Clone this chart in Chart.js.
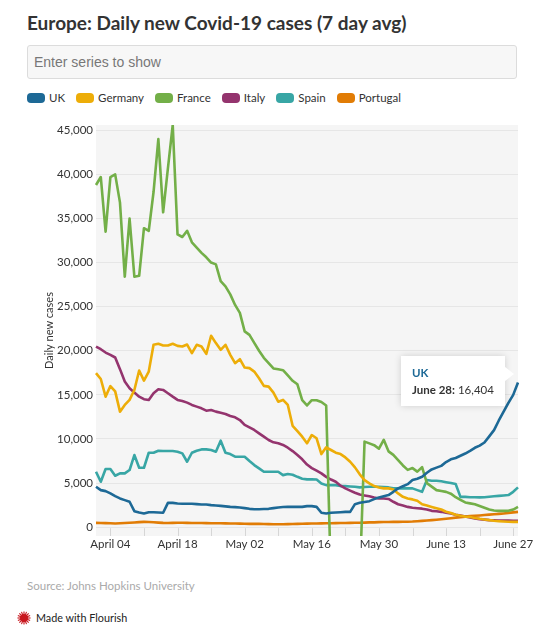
<!DOCTYPE html>
<html><head><meta charset="utf-8">
<script src="https://cdn.jsdelivr.net/npm/chart.js@4.4.0/dist/chart.umd.min.js"></script>
<style>
html,body{margin:0;padding:0;background:#fff;}
body{width:545px;height:641px;position:relative;overflow:hidden;font-family:Lato,"Noto Sans",sans-serif;color:#333;}
#title{position:absolute;left:27px;top:10px;font-weight:700;font-size:19px;line-height:26px;color:#333;white-space:nowrap;}
#search{position:absolute;left:27px;top:45px;width:490px;height:34px;box-sizing:border-box;border:1px solid #dcdcdc;border-radius:3px;background:#f7f7f7;font-family:"Liberation Sans",Arial,sans-serif;font-size:14px;color:#777;padding:0 6px;line-height:32px;}
#legend{position:absolute;left:27px;top:90px;height:16px;display:flex;font-size:11.5px;line-height:16px;color:#333;}
.item{display:flex;align-items:center;margin-right:11px;white-space:nowrap;}
.sw{width:18px;height:10px;border-radius:4px;margin-right:4px;}
#wrap{position:absolute;left:0;top:110px;width:545px;height:460px;}
#tip{position:absolute;background:#fff;box-shadow:0 0 7px rgba(0,0,0,0.16);padding:8px 11px 8px 11px;font-size:11.5px;line-height:17px;color:#333;white-space:nowrap;}
#tip .s{font-weight:700;}
#tip::after{content:"";position:absolute;right:-9px;top:11px;border-top:7px solid transparent;border-bottom:7px solid transparent;border-left:9px solid #fff;}
#source{position:absolute;left:27px;top:578px;font-size:11.5px;line-height:16px;color:#aaa;}
#made{position:absolute;left:17px;top:610px;font-size:10.8px;line-height:16px;color:#222;display:flex;align-items:center;}
#made svg{margin-right:5px;}
</style>
</head><body>
<div id="title">Europe: Daily new Covid-19 cases (7 day avg)</div>
<div id="search">Enter series to show</div>
<div id="legend"></div>
<div id="wrap"><canvas id="c"></canvas></div>
<div id="tip"></div>
<div id="source">Source: Johns Hopkins University</div>
<div id="made"><svg width="14" height="14" viewBox="0 0 16 16"><g stroke="#c8171e" stroke-width="1.3"><line x1="8" y1="0.5" x2="8" y2="15.5"/><line x1="0.5" y1="8" x2="15.5" y2="8"/><line x1="2.7" y1="2.7" x2="13.3" y2="13.3"/><line x1="13.3" y1="2.7" x2="2.7" y2="13.3"/><line x1="5.1" y1="1" x2="10.9" y2="15"/><line x1="10.9" y1="1" x2="5.1" y2="15"/><line x1="1" y1="5.1" x2="15" y2="10.9"/><line x1="1" y1="10.9" x2="15" y2="5.1"/></g><circle cx="8" cy="8" r="4.6" fill="#c8171e"/></svg>Made with Flourish</div>
<script>
// ---- data ----
const dates = [
"April 01","April 02","April 03","April 04","April 05","April 06","April 07","April 08","April 09","April 10",
"April 11","April 12","April 13","April 14","April 15","April 16","April 17","April 18","April 19","April 20",
"April 21","April 22","April 23","April 24","April 25","April 26","April 27","April 28","April 29","April 30",
"May 01","May 02","May 03","May 04","May 05","May 06","May 07","May 08","May 09","May 10",
"May 11","May 12","May 13","May 14","May 15","May 16","May 17","May 18","May 19","May 20",
"May 21","May 22","May 23","May 24","May 25","May 26","May 27","May 28","May 29","May 30","May 31",
"June 01","June 02","June 03","June 04","June 05","June 06","June 07","June 08","June 09","June 10",
"June 11","June 12","June 13","June 14","June 15","June 16","June 17","June 18","June 19","June 20",
"June 21","June 22","June 23","June 24","June 25","June 26","June 27","June 28"];
const tickLabels = ["April 04","April 18","May 02","May 16","May 30","June 13","June 27"];
const tickMarks = ["April 04","April 11","April 18","April 25","May 02","May 09","May 16","May 23","May 30","June 06","June 13","June 20","June 27"];
const yTicks = [0,5000,10000,15000,20000,25000,30000,35000,40000,45000];
const seriesNames = ["UK","Germany","France","Italy","Spain","Portugal"];
const seriesColors = ["#1D6996","#EDAD08","#73AF48","#94346E","#38A6A5","#E17C05"];

const uk = [4580,4200,4090,3830,3520,3260,3070,2880,1820,1670,
1550,1700,1700,1670,1630,2760,2760,2690,2650,2650,
2650,2610,2580,2580,2500,2460,2420,2360,2300,2270,
2240,2160,2080,2040,2040,2060,2080,2160,2240,2280,
2300,2300,2300,2300,2390,2390,2300,1630,1550,1630,
1670,1700,1740,1740,2610,2760,2850,2950,3180,3370,3500,
3640,4010,4400,4640,4880,5340,5500,5710,6170,6550,
6750,6950,7380,7690,7850,8100,8350,8650,9000,9250,
9600,10300,11000,12100,13100,14100,15000,16404];
const germany = [17460,16800,14800,16000,15400,13100,13860,14430,15560,17760,
16620,17640,20680,20790,20600,20600,20790,20560,20480,20710,
19730,20680,20480,19650,21700,20870,20110,20680,19540,18600,
19050,18100,18030,17640,16890,16020,15940,15260,14230,14430,
13860,11500,10900,10260,9510,10450,10080,8290,9050,8750,
8440,8290,7910,7420,6780,5990,5340,4960,4660,4510,4400,
4400,4280,3830,3440,3260,3150,2990,2600,2450,2300,
2150,2000,1750,1600,1400,1300,1200,1150,1050,950,
880,800,730,680,640,610,600,600];
const france = [38800,39700,33500,39700,40000,36800,28400,35000,28400,28500,
33900,33600,38000,44000,35700,40700,45600,33200,32900,33600,
32300,31700,31100,30600,30000,29800,27900,27300,26400,25200,
24300,22200,21800,20900,20000,19200,18600,18000,17900,17800,
17200,16600,16200,14400,13800,14400,14400,14200,13800,-6000,
-6000,-6000,-6000,-6000,-6000,-6000,9700,9500,9300,8900,9900,
8600,8200,7600,7000,6500,6700,6300,6800,5000,4600,
4200,4100,4000,3800,3400,3100,2800,2700,2600,2400,
2200,2000,1900,1850,1850,1850,2000,2300];
const italy = [20480,20180,19800,19540,19240,17920,16510,15760,15260,14800,
14510,14430,15190,15640,15560,15190,14800,14430,14310,14120,
13860,13670,13480,13210,13290,13100,12980,12840,12610,12460,
12150,11590,11320,11020,10640,10260,9880,9620,9510,9320,
9010,8630,8180,7700,7100,6700,6400,6100,5700,5400,
5150,4700,4400,4150,3900,3700,3600,3500,3370,3260,3260,
3200,2880,2600,2450,2300,2200,2150,2100,2010,1850,
1800,1740,1650,1550,1420,1310,1200,1100,1000,910,
860,800,780,760,750,740,720,720];
const spain = [6280,5150,6590,6590,5830,6100,6100,6480,8180,6740,
6740,8440,8440,8670,8630,8630,8630,8560,8370,7420,
8440,8670,8820,8820,8750,8560,9810,8440,8290,7990,
7990,7990,7500,7040,6670,6280,6280,6280,6280,5900,
6020,5950,5710,5500,5420,5420,5400,4960,4770,4770,
4770,4660,4660,4620,4580,4510,4550,4580,4580,4580,4550,
4510,4400,4400,4400,4400,4400,4200,4010,5340,5260,
5260,5200,5100,5000,4900,3440,3440,3400,3400,3380,
3400,3450,3500,3550,3600,3640,4010,4510];
const portugal = [490,480,460,440,420,440,470,500,530,570,
600,580,560,520,490,480,490,500,500,490,
480,470,470,460,450,450,440,430,420,410,
400,390,380,380,370,360,350,340,340,340,
350,360,380,390,400,410,420,430,440,450,
460,470,480,490,500,510,520,540,550,570,580,
590,600,600,610,620,640,680,720,760,800,
850,900,960,1020,1080,1140,1200,1250,1290,1330,
1380,1420,1460,1510,1560,1620,1680,1740];
const seriesValues = [uk, germany, france, italy, spain, portugal];
const tipSeries = 0; // UK highlighted
const tipIndex = dates.length - 1;

// ---- legend ----
const lg = document.getElementById('legend');
seriesNames.forEach((n,i)=>{
  const it=document.createElement('div'); it.className='item';
  it.innerHTML='<span class="sw" style="background:'+seriesColors[i]+'"></span>'+n;
  lg.appendChild(it);
});

const FONT = 'Lato, "Noto Sans", sans-serif';
const bgPlugin = {
  id:'bg',
  beforeDraw(chart){
    const {ctx, chartArea:a} = chart;
    ctx.save(); ctx.fillStyle='#f5f5f5';
    ctx.fillRect(a.left, a.top, a.right-a.left, a.bottom-a.top);
    ctx.restore();
  },
  beforeDatasetsDraw(chart){
    const {ctx, chartArea:a, scales:{x,y}} = chart;
    const y0 = y.getPixelForValue(0);
    ctx.save(); ctx.strokeStyle='#d6d6d6'; ctx.lineWidth=1;
    tickMarks.forEach(d=>{
      const px = Math.round(x.getPixelForValue(dates.indexOf(d))) + 0.5;
      ctx.beginPath(); ctx.moveTo(px, y0 + 1); ctx.lineTo(px, a.bottom); ctx.stroke();
    });
    ctx.restore();
  }
};

const chart = new Chart(document.getElementById('c'), {
  type:'line',
  data:{
    labels: dates,
    datasets: seriesNames.map((n,i)=>({
      label:n, data:seriesValues[i], borderColor:seriesColors[i], backgroundColor:seriesColors[i],
      borderWidth:2.6, pointRadius:0, tension:0, fill:false, borderJoinStyle:'round'
    }))
  },
  options:{
    responsive:true, maintainAspectRatio:false, animation:false,
    events:[],
    layout:{padding:{top:15,right:27,left:0,bottom:0}},
    plugins:{legend:{display:false}, tooltip:{enabled:false}},
    scales:{
      x:{
        type:'category', offset:false,
        grid:{display:false, drawTicks:false},
        border:{display:false},
        ticks:{autoSkip:false, maxRotation:0, padding:1, color:'#333', font:{family:FONT,size:11.5},
          callback:(v,i)=> tickLabels.includes(dates[i]) ? dates[i] : ''},
        afterFit:(s)=>{ s.height = 34; }
      },
      y:{
        min:-1000, max:45600,
        grid:{color:'#e6e6e6', lineWidth:1, drawTicks:false},
        border:{display:false},
        ticks:{padding:3, color:'#333', font:{family:FONT,size:11.5},
          callback:(v)=> Number(v).toLocaleString('en-US')},
        afterBuildTicks:(s)=>{ s.ticks = yTicks.map(v=>({value:v})); },
        title:{display:true, text:'Daily new cases', color:'#333', font:{family:FONT,size:11}, padding:{top:43,bottom:0}},
        afterFit:(s)=>{ s.width = 96; }
      }
    }
  },
  plugins:[bgPlugin]
});

// ---- tooltip positioned from the library's point element ----
const pt = chart.getDatasetMeta(tipSeries).data[tipIndex];
const tip = document.getElementById('tip');
tip.innerHTML = '<div class="s" style="color:'+seriesColors[tipSeries]+'">'+seriesNames[tipSeries]+'</div>'+
  '<div><b>'+dates[tipIndex]+':</b> '+seriesValues[tipSeries][tipIndex].toLocaleString('en-US')+'</div>';
const cv = chart.canvas.getBoundingClientRect();
const px = cv.left + pt.x, py = cv.top + pt.y;
tip.style.left = (px - 13 - tip.offsetWidth) + 'px';
tip.style.top = (py - 27) + 'px';
</script>
</body></html>
